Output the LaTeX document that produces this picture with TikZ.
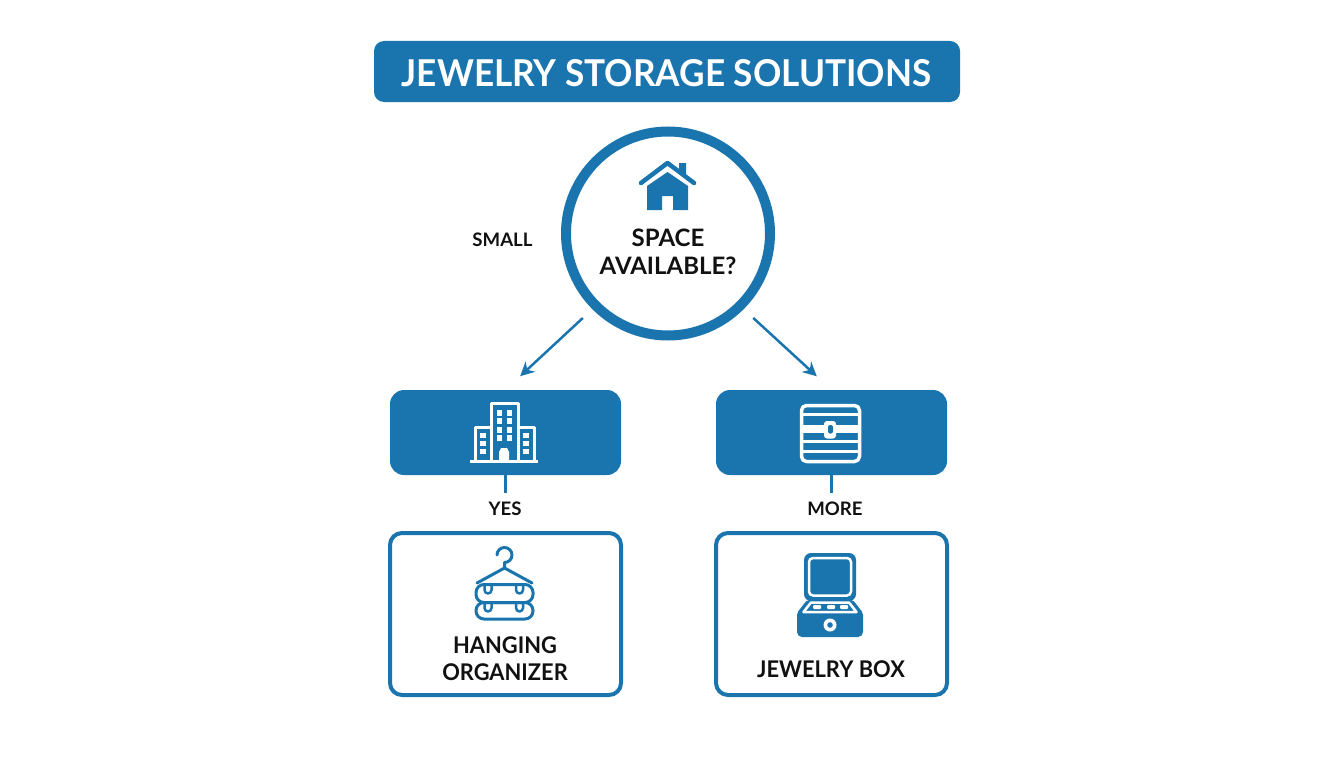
\documentclass[tikz,border=0pt]{standalone}
\usepackage{fontspec}
\setmainfont{Lato}
\newfontfamily\narrowlato[FakeStretch=0.95]{Lato}
\usetikzlibrary{arrows.meta,positioning}
\definecolor{boxblue}{HTML}{1A75AE}
\definecolor{inkblack}{HTML}{111111}
\tikzset{
  titlebar/.style={fill=boxblue,rounded corners=10pt,minimum width=586pt,minimum height=61pt,inner sep=0pt},
  titletext/.style={text=white,inner sep=0pt,font=\narrowlato\fontsize{37}{40}\selectfont\bfseries},
  questionring/.style={circle,draw=boxblue,line width=10pt,minimum size=204pt,inner sep=0pt},
  filledbox/.style={fill=boxblue,rounded corners=14pt,minimum width=231pt,minimum height=85pt,inner sep=0pt},
  outlinebox/.style={draw=boxblue,line width=4pt,rounded corners=12pt,minimum width=231pt,minimum height=162pt,inner sep=0pt},
  biglabel/.style={text=inkblack,align=center,inner sep=0pt,font=\fontsize{24}{27.5}\selectfont\bfseries},
  resultlabel/.style={text=inkblack,align=center,inner sep=0pt,font=\narrowlato\fontsize{23}{27.5}\selectfont\bfseries},
  smalllabel/.style={text=inkblack,inner sep=0pt,font=\fontsize{18.6}{20}\selectfont\bfseries},
  flowarrow/.style={draw=boxblue,line width=2.5pt,-{Stealth[length=14pt,width=14pt]}},
  stemline/.style={draw=boxblue,line width=2.5pt},
  iconline/.style={draw=boxblue,line width=3pt,line cap=round,line join=round},
  whiteline/.style={draw=white,line width=3pt,line join=round}
}
\begin{document}
\begin{tikzpicture}[x=1pt,y=-1pt]
    \useasboundingbox[fill=white] (0,0) rectangle (1344,768);

    % title and question
    \node[titlebar] (title) at (667,71.5) {};
    \node[titletext] (titlelabel) at (666.5,73) {JEWELRY STORAGE SOLUTIONS};
    \node[questionring] (space) at (668,233.5) {};
    \node[biglabel] (spacetext) at (668,252) {SPACE\\AVAILABLE?};
    \node[smalllabel] (small) at (502.5,240) {SMALL};

    % the two middle boxes
    \node[filledbox] (citybox) at (505.5,432.5) {};
    \node[filledbox] (chestbox) at (831.5,432.5) {};
    \node[smalllabel] (yes) at (505,508.5) {YES};
    \node[smalllabel] (more) at (835,508.5) {MORE};

    % the two result boxes
    \node[outlinebox] (organizer) at (505.5,614) {};
    \node[outlinebox] (jewelbox) at (831.5,614) {};
    \node[resultlabel] (organizertext) at (505,658.5) {HANGING\\ORGANIZER};
    \node[resultlabel] (jewelboxtext) at (831,669) {JEWELRY BOX};

    % connectors
    \draw[flowarrow,shorten <=13pt,shorten >=20pt] (space.south west) -- (citybox.north);
    \draw[flowarrow,shorten <=13pt,shorten >=20pt] (space.south east) -- (chestbox.north);
    \draw[stemline,shorten >=8pt] (citybox.south) -- (citybox.south |- yes.north);
    \draw[stemline,shorten >=8pt] (chestbox.south) -- (chestbox.south |- more.north);

    % house icon
    \fill[boxblue] (647,210) -- (647,186) -- (667.5,172) -- (688,186) -- (688,210) -- (673,210) -- (673,196) -- (662,196) -- (662,210) -- cycle;
    \fill[boxblue] (679,163) -- (686,163) -- (686,177) -- (679,172) -- cycle;
    \draw[iconline,line width=4.5pt] (641,183) -- (667.5,163) -- (694,183);

    % building icon
    \draw[whiteline] (470,461) -- (538,461);
    \draw[whiteline] (491.5,461) -- (491.5,403.5) -- (518,403.5) -- (518,461);
    \draw[whiteline] (475,461) -- (475,427.5) -- (491.5,427.5);
    \draw[whiteline] (518,427.5) -- (534,427.5) -- (534,461);
    \foreach \wx in {499.5,509.5}
        \foreach \wy in {413,421,430,438}
            \fill[white] (\wx-2.7,\wy-2.7) rectangle (\wx+2.7,\wy+2.7);
    \foreach \wx in {483,526}
        \foreach \wy in {435,443,451}
            \fill[white] (\wx-2.7,\wy-2.5) rectangle (\wx+2.7,\wy+2.5);
    \fill[white] (499,460) -- (499,452) -- (501,448) -- (507,448) -- (509,452) -- (509,460) -- cycle;

    % chest icon
    \draw[whiteline,line width=3.5pt,rounded corners=5pt] (801.5,405.5) rectangle (859.5,461.5);
    \draw[whiteline,line width=2.5pt] (802,414.5) -- (859,414.5);
    \fill[white] (802,425) rectangle (859,432.5);
    \draw[whiteline,line width=2.5pt] (802,441.5) -- (859,441.5);
    \draw[whiteline,line width=2.5pt] (802,451.5) -- (859,451.5);
    \fill[white,rounded corners=3pt] (824,421) rectangle (836,438.5);
    \fill[boxblue,rounded corners=2pt] (828,425) rectangle (833,433.5);

    % hanger icon
    \draw[iconline] (497,555) arc[start angle=180,end angle=450,radius=7.5] -- (504.5,568);
    \draw[iconline] (477,583) -- (504.5,568) -- (532,583);
    \draw[iconline,rounded corners=8pt] (476,584.5) rectangle (533,602.5);
    \draw[iconline,rounded corners=8pt] (476,602.5) rectangle (533,619);
    \foreach \lx in {488,519.5}
        \foreach \ly in {585,603}
            \draw[iconline,line width=2.5pt] (\lx-3.5,\ly) -- (\lx-3.5,\ly+5) arc[start angle=180,end angle=0,radius=3.5] -- (\lx+3.5,\ly);

    % jewelry box icon
    \fill[boxblue,rounded corners=7pt] (804,553) rectangle (856,601);
    \draw[whiteline,line width=2.5pt,rounded corners=4pt] (809,558) rectangle (851,595.5);
    \fill[boxblue,rounded corners=2pt] (807,600) -- (853,600) -- (863,613) -- (863,634) -- (860,637) -- (800,637) -- (797,634) -- (797,613) -- cycle;
    \draw[whiteline,line width=2.5pt] (811,602.5) -- (849,602.5) -- (856.5,612) -- (803.5,612) -- cycle;
    \foreach \px in {817,831,844}
        \fill[white,rounded corners=1pt] (\px-4,605) rectangle (\px+4,609);
    \fill[white] (830,625) circle (6.5pt);
    \fill[boxblue] (830,625) circle (2.8pt);
\end{tikzpicture}
\end{document}
